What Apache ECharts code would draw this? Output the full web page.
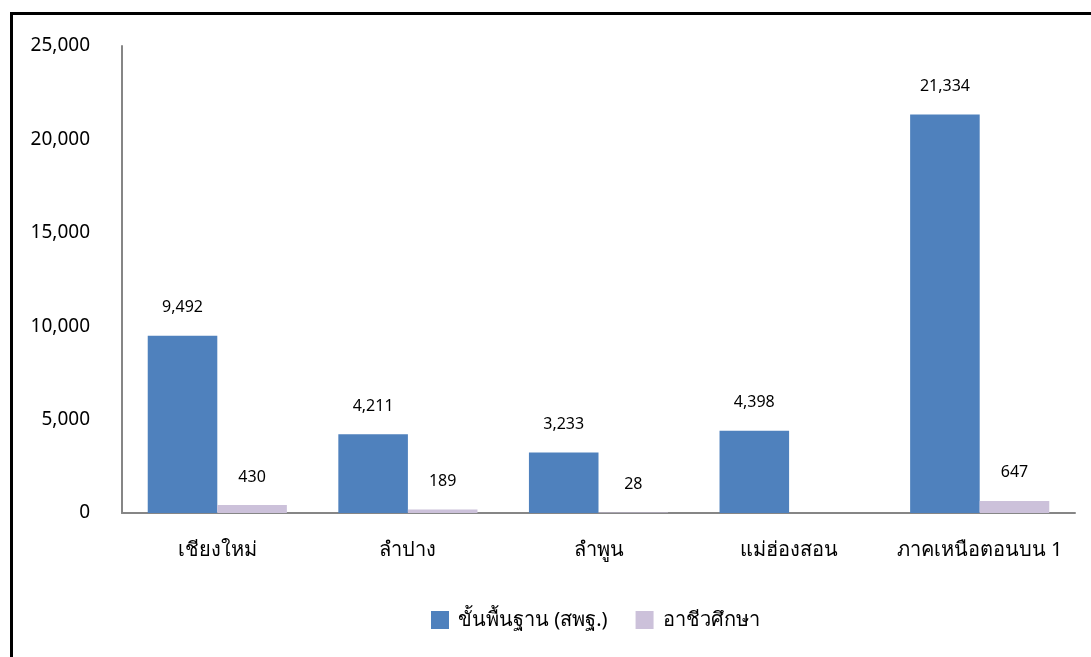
<!DOCTYPE html>
<html>
<head>
<meta charset="utf-8">
<script src="https://cdn.jsdelivr.net/npm/echarts@6/dist/echarts.min.js"></script>
<style>
html,body{margin:0;padding:0;background:#fff;overflow:hidden;}
#chart{width:1091px;height:657px;}
</style>
</head>
<body>
<div id="chart"></div>
<script>
var categories = ['เชียงใหม่', 'ลำปาง', 'ลำพูน', 'แม่ฮ่องสอน', 'ภาคเหนือตอนบน 1'];
var basicValues = [9492, 4211, 3233, 4398, 21334];
var vocationalValues = [430, 189, 28, null, 647];
var seriesNames = ['ขั้นพื้นฐาน (สพฐ.)', 'อาชีวศึกษา'];
var yTicks = [0, 5000, 10000, 15000, 20000, 25000];

var FONT = '"Noto Sans", "DejaVu Sans", Tahoma, sans-serif';
function fmt(v){ return Number(v).toLocaleString('en-US'); }

var chart = echarts.init(document.getElementById('chart'), null, {renderer:'canvas'});
chart.setOption({
  animation:false,
  backgroundColor:'#fff',
  textStyle:{fontFamily:FONT},
  graphic:[{
    type:'rect', silent:true, z:100,
    shape:{x:11.5, y:13.5, width:1200, height:800},
    style:{fill:'none', stroke:'#000', lineWidth:3}
  }],
  grid:{left:122, top:46, right:16, bottom:144, containLabel:false},
  legend:{
    data:seriesNames,
    bottom:22,
    left:426,
    itemWidth:18, itemHeight:18, itemGap:28,
    icon:'rect',
    textStyle:{fontSize:20, color:'#000', fontFamily:FONT, padding:[0,0,0,4]}
  },
  xAxis:{
    type:'category',
    data:categories,
    axisLine:{lineStyle:{color:'#868686', width:2}},
    axisTick:{show:false},
    axisLabel:{interval:0, fontSize:20, color:'#000', margin:27, fontFamily:FONT}
  },
  yAxis:{
    type:'value',
    min:yTicks[0], max:yTicks[yTicks.length-1], interval:5000,
    axisLine:{show:true, lineStyle:{color:'#868686', width:2}},
    axisTick:{show:false},
    splitLine:{show:false},
    axisLabel:{fontSize:19, color:'#000', margin:32, fontFamily:FONT, formatter:function(v){return fmt(v);}}
  },
  series:[
    {
      name:seriesNames[0], type:'bar', data:basicValues,
      barGap:'0%', barCategoryGap:'27%',
      itemStyle:{color:'#4F81BD'},
      label:{show:true, position:'top', distance:20, fontSize:16, color:'#000', fontFamily:FONT,
        formatter:function(p){return fmt(p.value);}}
    },
    {
      name:seriesNames[1], type:'bar', data:vocationalValues,
      barGap:'0%', barCategoryGap:'27%',
      itemStyle:{color:'#CCC1DA'},
      label:{show:true, position:'top', distance:20, fontSize:16, color:'#000', fontFamily:FONT,
        formatter:function(p){return p.value==null?'':fmt(p.value);}}
    }
  ]
});
</script>
</body>
</html>
